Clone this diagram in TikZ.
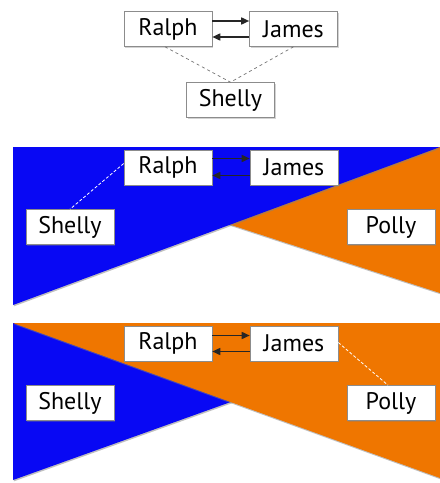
\documentclass[tikz,border=0pt]{standalone}
\usepackage{fontspec}
\setmainfont{PT Sans}
\usetikzlibrary{arrows.meta,shadows}
\definecolor{castblue}{RGB}{8,8,244}
\definecolor{castorange}{RGB}{239,118,0}

\begin{document}
\begin{tikzpicture}[x=1pt,y=-1pt,
  namebox/.style={draw=black!45, line width=0.6pt, fill=white, minimum width=88pt, minimum height=35pt, inner sep=0pt,
    font=\fontsize{24}{28}\selectfont, drop shadow={shadow xshift=1.2pt,shadow yshift=-1.2pt,opacity=0.35}},
  talk/.style={-{Triangle[length=8pt,width=7pt]}, line width=1.6pt, black!85},
  tie/.style={dashed, black!55, line width=0.7pt},
  hidden/.style={densely dashed, white, line width=0.8pt},
  panel/.style={drop shadow={shadow xshift=0.8pt,shadow yshift=-1.4pt,opacity=0.5}}]
\useasboundingbox (0,0) rectangle (440,483);
% top: the three of them
\node[namebox] (ralphA)  at (168,29)    {Ralph};
\node[namebox] (jamesA)  at (293.5,29)  {James};
\node[namebox] (shellyA) at (230.5,100) {Shelly};
\draw[talk] ([yshift=8pt]ralphA.east) -- ([yshift=8pt]jamesA.west);
\draw[talk] ([yshift=-8pt]jamesA.west) -- ([yshift=-8pt]ralphA.east);
\draw[tie] ([xshift=-3pt]ralphA.south) -- (shellyA.north);
\draw[tie] (jamesA.south) -- (shellyA.north);
% middle panel: blue over orange
\fill[castorange, panel] (440,147) -- (440,293) -- (13,154) -- cycle;
\fill[castblue, panel]   (13,147) -- (440,147) -- (13,305) -- cycle;
\node[namebox] (ralphB)  at (168,167.5) {Ralph};
\node[namebox] (jamesB)  at (294,167.5) {James};
\node[namebox] (shellyB) at (70,227)    {Shelly};
\node[namebox] (pollyB)  at (391,227)   {Polly};
\draw[talk] ([yshift=9pt]ralphB.east) -- ([yshift=9pt]jamesB.west);
\draw[talk] ([yshift=-8pt]jamesB.west) -- ([yshift=-8pt]ralphB.east);
\draw[hidden] ([yshift=4pt]ralphB.west) -- (shellyB.north);
% bottom panel: orange over blue
\fill[castblue, panel]   (13,323) -- (13,480) -- (440,327) -- cycle;
\fill[castorange, panel] (13,323) -- (440,323) -- (440,478) -- cycle;
\node[namebox] (ralphC)  at (168,343.5) {Ralph};
\node[namebox] (jamesC)  at (294,343.5) {James};
\node[namebox] (shellyC) at (70,403)    {Shelly};
\node[namebox] (pollyC)  at (391,403)   {Polly};
\draw[talk] ([yshift=8pt]ralphC.east) -- ([yshift=8pt]jamesC.west);
\draw[talk] ([yshift=-8pt]jamesC.west) -- ([yshift=-8pt]ralphC.east);
\draw[hidden] ([yshift=1pt]jamesC.east) -- ([xshift=-3pt]pollyC.north);
\end{tikzpicture}
\end{document}
